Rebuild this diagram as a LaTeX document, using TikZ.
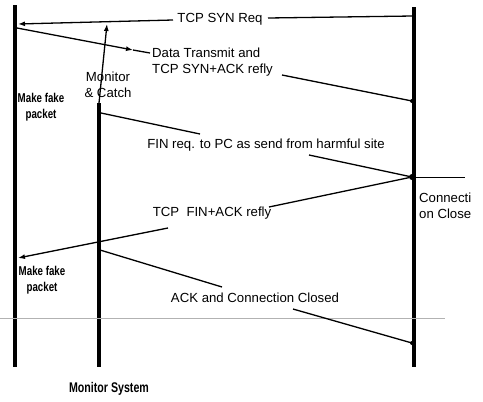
\documentclass[tikz,border=0pt]{standalone}
\usepackage{fontspec}
\setmainfont{Liberation Sans}
\newfontfamily\narrowbold[FakeStretch=0.76]{Liberation Sans Bold}
\usetikzlibrary{arrows.meta}
\begin{document}
\begin{tikzpicture}[x=1pt,y=-1pt,
  life/.style={line width=3.8pt},
  msg/.style={line width=1.3pt},
  lbl/.style={font=\fontsize{13.2}{15.5}\selectfont, inner sep=0pt},
  blbl/.style={font=\narrowbold\fontsize{12.8}{15.5}\selectfont, inner sep=0pt, align=center},
  tipend/.style={-{Latex[length=7pt,width=5pt]}},
  enddot/.style={circle, fill, inner sep=0pt, minimum size=4pt}]
\useasboundingbox (0,0) rectangle (483,402);
% lifelines
\coordinate (Lt) at (15,5);   \coordinate (Lb) at (15,367);
\coordinate (Mt) at (99,103); \coordinate (Mb) at (99,367);
\coordinate (Rt) at (414,7);  \coordinate (Rb) at (414,367);
\draw[life] (Lt) -- (Lb);
\draw[life] (Mt) -- (Mb);
\draw[life] (Rt) -- (Rb);
% scan line
\coordinate (g1) at (0,318); \coordinate (g2) at (445,318);
\draw[gray!60, line width=0.6pt] (g1) -- (g2);
% labels
\node[lbl] (syn) at (220,19) {TCP SYN Req};
\node[lbl, align=left, anchor=west] (data) at (152,62) {Data Transmit and\\TCP SYN+ACK refly};
\node[lbl, align=center] (mon) at (108,85) {Monitor\\\& Catch};
\node[blbl] (fake1) at (41,107) {Make fake\\packet};
\node[lbl] (fin) at (266,145) {FIN req. to PC as send from harmful site};
\node[lbl, align=left, anchor=west] (conn) at (419,206) {Connecti\\on Close};
\node[lbl] (finack) at (212,213) {TCP\ \ FIN+ACK refly};
\node[blbl] (fake2) at (42,280) {Make fake\\packet};
\node[lbl] (ack) at (255,298) {ACK and Connection Closed};
\node[blbl, font=\narrowbold\fontsize{14}{16}\selectfont] (sys) at (109,389) {Monitor System};
% TCP SYN Req
\coordinate (s1) at (413,16); \coordinate (s2) at (268,18);
\coordinate (s3) at (173,20); \coordinate (s4) at (18,24);
\draw[msg] (s1) -- (s2);
\draw[msg, tipend] (s3) -- (s4);
% monitor arrow
\coordinate (m2) at (107,24);
\draw[msg, tipend] (Mt) -- (m2);
% data transmit
\coordinate (d1) at (17,28); \coordinate (dm) at (133,50); \coordinate (d2) at (150,53);
\coordinate (d3) at (282,75); \coordinate (d4) at (412,101);
\draw[msg, tipend] (d1) -- (dm);
\draw[msg] (dm) -- (d2);
\draw[msg] (d3) -- (d4);
\node[enddot] (dd) at (d4) {};
% FIN req
\coordinate (f1) at (101,113); \coordinate (f2) at (200,134);
\coordinate (f3) at (309,155); \coordinate (f4) at (412,177);
\draw[msg] (f1) -- (f2);
\draw[msg] (f3) -- (f4);
\node[enddot, minimum size=6pt] (fd) at (f4) {};
\coordinate (c2) at (465,177);
\draw[line width=0.7pt] (fd) -- (c2);
% TCP FIN+ACK
\coordinate (a1) at (269,207); \coordinate (a2) at (168,228); \coordinate (a3) at (18,258);
\draw[msg] (fd) -- (a1);
\draw[msg, tipend] (a2) -- (a3);
% ACK and connection closed
\coordinate (k1) at (100,250); \coordinate (k2) at (222,287);
\coordinate (k3) at (293,309); \coordinate (k4) at (412,343);
\draw[msg] (k1) -- (k2);
\draw[msg] (k3) -- (k4);
\node[enddot] (kd) at (k4) {};
\end{tikzpicture}
\end{document}
